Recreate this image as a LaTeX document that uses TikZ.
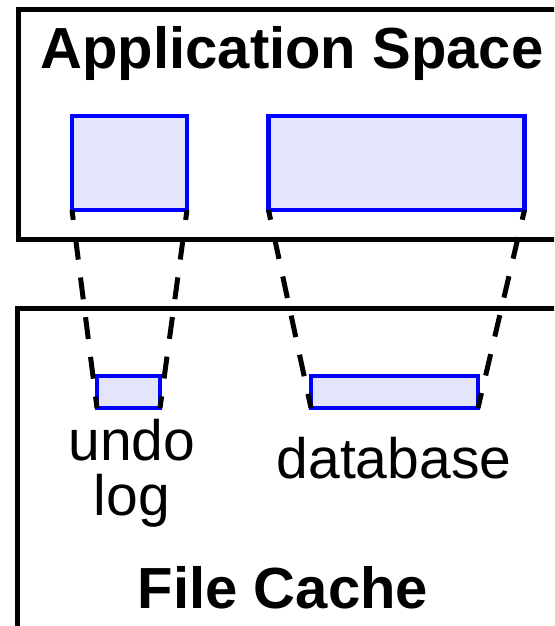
\documentclass[tikz,border=0pt]{standalone}
\usepackage{fontspec}
\setmainfont{Liberation Sans}
\begin{document}
\begin{tikzpicture}[x=1pt,y=-1pt,
  frame/.style={draw=black,line width=5pt},
  blk/.style={draw=blue,fill=blockfill,line width=4.5pt,inner sep=0pt,outer sep=0pt,anchor=north west},
  mapline/.style={draw=black,line width=5pt,dash pattern=on 22pt off 18pt,dash phase=12pt},
  title/.style={font=\fontsize{58}{60}\selectfont\bfseries,anchor=base,inner sep=0pt},
  lbl/.style={font=\fontsize{57}{55}\selectfont,anchor=base,inner sep=0pt,align=center}]
\definecolor{blockfill}{RGB}{228,228,250}
\useasboundingbox (0,0) rectangle (554,626);
\clip (0,0) rectangle (554,626);
\fill[white] (0,0) rectangle (554,626);

% outer regions
\draw[frame] (18,10) rectangle (570,239);
\draw[frame] (17.5,308) rectangle (570,650);

% application space buffers
\node[blk,minimum width=115pt,minimum height=94pt] (appundo) at (72,116) {};
\node[blk,minimum width=256pt,minimum height=94pt] (appdb) at (268.5,116) {};

% file cache buffers
\node[blk,minimum width=63pt,minimum height=32pt] (fcundo) at (97,376) {};
\node[blk,minimum width=167pt,minimum height=32pt] (fcdb) at (311,376) {};

% mappings between the two spaces
\draw[mapline] (appundo.south west) -- (fcundo.south west);
\draw[mapline] (appundo.south east) -- (fcundo.south east);
\draw[mapline] (appdb.south west) -- (fcdb.south west);
\draw[mapline] (appdb.south east) -- (fcdb.south east);

% labels (multi-line label is placed by the baseline of its last line)
\node[title] (apptitle) at (292,68) {Application Space};
\node[title] (fctitle) at (283,608) {File Cache};
\node[lbl] (undolbl) at (132,515) {undo\\log};
\node[lbl] (dblbl) at (394,478) {database};
\end{tikzpicture}
\end{document}
